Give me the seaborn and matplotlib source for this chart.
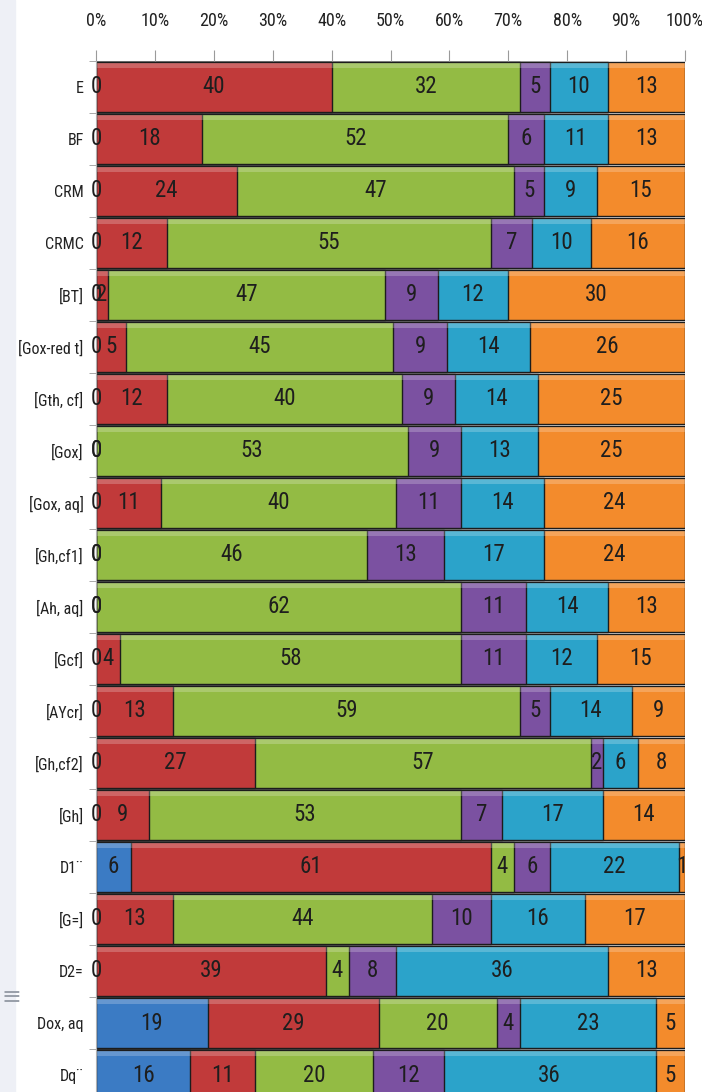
"""
100% stacked horizontal bars
"""
from matplotlib import pyplot as plt
from matplotlib import font_manager
import pandas as pd
import numpy as np
import seaborn as sns

categories = ['E', 'BF', 'CRM', 'CRMC', '[BT]', '[Gox-red t]', '[Gth, cf]', '[Gox]',
              '[Gox, aq]', '[Gh,cf1]', '[Ah, aq]', '[Gcf]', '[AYcr]', '[Gh,cf2]', '[Gh]',
              'D1¨', '[G=]', 'D2=', 'Dox, aq', 'Dq¨']

s_blue = [0, 0, 0, 0, 0, 0, 0, 0, 0, 0, 0, 0, 0, 0, 0, 6, 0, 0, 19, 16]
s_red = [40, 18, 24, 12, 2, 5, 12, 0, 11, 0, 0, 4, 13, 27, 9, 61, 13, 39, 29, 11]
s_green = [32, 52, 47, 55, 47, 45, 40, 53, 40, 46, 62, 58, 59, 57, 53, 4, 44, 4, 20, 20]
s_purple = [5, 6, 5, 7, 9, 9, 9, 9, 11, 13, 11, 11, 5, 2, 7, 6, 10, 8, 4, 12]
s_cyan = [10, 11, 9, 10, 12, 14, 14, 13, 14, 17, 14, 12, 14, 6, 17, 22, 16, 36, 23, 36]
s_orange = [13, 13, 15, 16, 30, 26, 25, 25, 24, 24, 13, 15, 9, 8, 14, 1, 17, 13, 5, 5]

series = [s_blue, s_red, s_green, s_purple, s_cyan, s_orange]
colors = ['#3b7bc4', '#c13a3a', '#93bb44', '#7b51a1', '#2ba3ca', '#f38b2c']

# narrow face if one is around
names = {f.name for f in font_manager.fontManager.ttflist}
narrow = 'DejaVu Sans'
for cand in ['Liberation Sans Narrow', 'Arial Narrow', 'Roboto Condensed', 'Archivo Narrow',
             'PT Sans Narrow', 'Fira Sans Condensed', 'Pathway Gothic One']:
    if cand in names:
        narrow = cand
        break
plt.rcParams['font.family'] = [narrow, 'DejaVu Sans']

vals = np.array(series, dtype=float)
pct = vals / vals.sum(axis=0) * 100
cum = np.cumsum(pct, axis=0)

fig = plt.figure(figsize=(7.02, 10.92), dpi=100)
fig.patches.append(plt.Rectangle((0, 0), 15 / 702, 1, transform=fig.transFigure,
                                 color='#eef0f6', zorder=-5))
fig.text(2 / 702, 0.087, '≡', color='#9aa0aa', fontsize=17, ha='left', va='center',
         family='DejaVu Sans')
ax = fig.add_axes([96 / 702, -9 / 1092, 589 / 702, 1040 / 1092])

# draw from the last (rightmost) layer so earlier ones sit on top
for k in range(len(series) - 1, -1, -1):
    d = pd.DataFrame({'cat': categories, 'val': cum[k]})
    sns.barplot(data=d, x='val', y='cat', orient='h', color=colors[k], saturation=1,
                width=0.96, edgecolor='#1c1c1c', linewidth=1.0, ax=ax)

# light bevel along the top of each segment
ypos = np.arange(len(categories))
for k in range(len(series)):
    ax.barh(ypos - 0.41, pct[k], left=cum[k] - pct[k], height=0.09, color='white',
            alpha=0.22, linewidth=0)

for k in range(len(series)):
    for i in range(len(categories)):
        ax.text(cum[k][i] - pct[k][i] / 2, i, f'{int(vals[k][i])}', ha='center', va='center',
                fontsize=16.5, color='#1e1e1e')

ax.set_xlim(0, 100)
ax.set_ylim(len(categories) - 0.5, -0.5)
ax.xaxis.tick_top()
ax.set_xticks(range(0, 101, 10))
ax.set_xticklabels([f'{t}%' for t in range(0, 101, 10)], fontsize=13, color='#222222')
ax.tick_params(axis='x', length=8, color='#9a9a9a', pad=14)
ax.set_yticks(range(len(categories)))
ax.set_yticklabels(categories, fontsize=11.5, color='#222222')
ax.tick_params(axis='y', length=0, pad=9)
ax.set_yticks(np.arange(-0.5, len(categories), 1), minor=True)
ax.tick_params(axis='y', which='minor', length=5, color='#9a9a9a')
ax.set_xlabel('')
ax.set_ylabel('')
for sp in ax.spines.values():
    sp.set_visible(False)
ax.spines['left'].set_visible(True)
ax.spines['left'].set_color('#b0b0b0')

plt.savefig('out.png', dpi=100)
